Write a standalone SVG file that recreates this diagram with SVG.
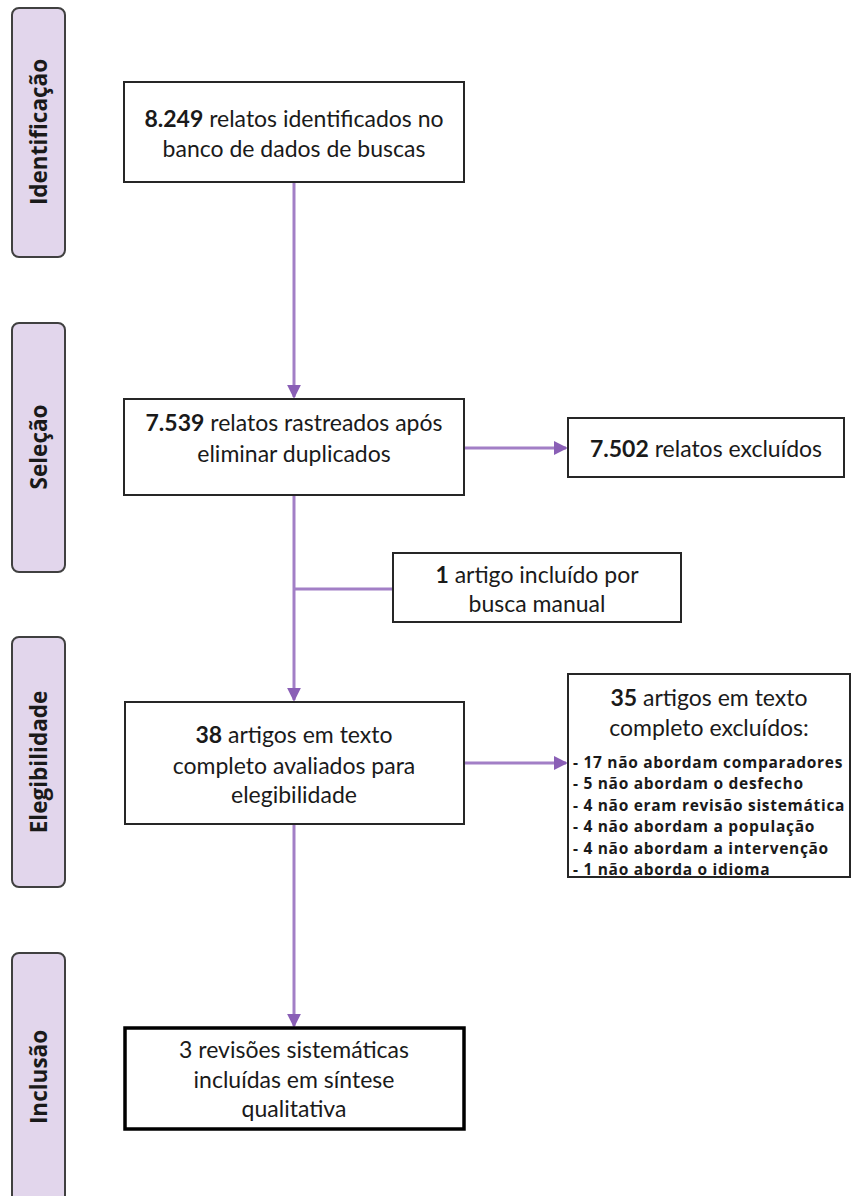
<svg xmlns="http://www.w3.org/2000/svg" width="858" height="1196" viewBox="0 0 858 1196">
<defs>
<style>
.phase{fill:#e2d6ec;stroke:#404040;stroke-width:2}
.ptxt{font-family:"Open Sans","Noto Sans",sans-serif;font-weight:700;font-size:22.5px;fill:#1a1a1a;text-anchor:middle;dominant-baseline:central}
.box{fill:#fff;stroke:#262626;stroke-width:2}
.boxb{fill:#fff;stroke:#000;stroke-width:3.5}
.t{font-family:Lato,"Liberation Sans",sans-serif;font-size:23px;fill:#1a1a1a;text-anchor:middle;dominant-baseline:central}
.l{font-family:"Open Sans","Liberation Sans",sans-serif;font-size:15.5px;letter-spacing:0.7px;font-weight:700;fill:#1a1a1a;dominant-baseline:central}
.c{stroke:#a27fc6;stroke-width:3;fill:none}
</style>
<marker id="ah" markerWidth="4.6" markerHeight="4.6" refX="4" refY="2.3" orient="auto" markerUnits="strokeWidth">
<path d="M0,0 L4.6,2.3 L0,4.6 z" fill="#8a5fb6"/>
</marker>
</defs>
<rect width="858" height="1196" fill="#fff"/>
<g id="phase-identificacao"><rect class="phase" x="12" y="8" width="53" height="249" rx="7"/><text class="ptxt" transform="translate(38.5,132) rotate(-90)">Identificação</text></g>
<g id="phase-selecao"><rect class="phase" x="12" y="323" width="53" height="249" rx="7"/><text class="ptxt" transform="translate(38.5,447) rotate(-90)">Seleção</text></g>
<g id="phase-elegibilidade"><rect class="phase" x="12" y="637" width="53" height="250" rx="7"/><text class="ptxt" transform="translate(38.5,762) rotate(-90)">Elegibilidade</text></g>
<g id="phase-inclusao"><rect class="phase" x="12" y="953" width="53" height="260" rx="7"/><text class="ptxt" transform="translate(38.5,1077) rotate(-90)">Inclusão</text></g>
<g id="connectors">
<line class="c" x1="294" y1="182" x2="294" y2="397" marker-end="url(#ah)"/>
<line class="c" x1="464" y1="448" x2="566" y2="448" marker-end="url(#ah)"/>
<line class="c" x1="294" y1="495" x2="294" y2="700" marker-end="url(#ah)"/>
<line class="c" x1="393" y1="589" x2="294" y2="589"/>
<line class="c" x1="464" y1="763" x2="566" y2="763" marker-end="url(#ah)"/>
<line class="c" x1="294" y1="824" x2="294" y2="1026" marker-end="url(#ah)"/>
</g>
<g id="n-identificados"><rect class="box" x="124" y="82" width="340" height="100"/>
<text class="t" x="294" y="118"><tspan font-weight="700">8.249</tspan> relatos identificados no</text>
<text class="t" x="294" y="148">banco de dados de buscas</text></g>
<g id="n-rastreados"><rect class="box" x="124" y="399" width="340" height="96"/>
<text class="t" x="294" y="422"><tspan font-weight="700">7.539</tspan> relatos rastreados após</text>
<text class="t" x="294" y="453">eliminar duplicados</text></g>
<g id="n-excluidos"><rect class="box" x="568" y="418" width="276" height="59"/>
<text class="t" x="706" y="448"><tspan font-weight="700">7.502</tspan> relatos excluídos</text></g>
<g id="n-manual"><rect class="box" x="393" y="553" width="288" height="69"/>
<text class="t" x="537" y="574"><tspan font-weight="700">1</tspan> artigo incluído por</text>
<text class="t" x="537" y="603">busca manual</text></g>
<g id="n-avaliados"><rect class="box" x="125" y="702" width="339" height="122"/>
<text class="t" x="294" y="734"><tspan font-weight="700">38</tspan> artigos em texto</text>
<text class="t" x="294" y="765">completo avaliados para</text>
<text class="t" x="294" y="794">elegibilidade</text></g>
<g id="n-excluidos-texto"><rect class="box" x="568" y="674" width="282" height="203"/>
<text class="t" x="709" y="697"><tspan font-weight="700">35</tspan> artigos em texto</text>
<text class="t" x="709" y="727">completo excluídos:</text>
<text class="l" x="573" y="762">- 17 não abordam comparadores</text>
<text class="l" x="573" y="783.4">- 5 não abordam o desfecho</text>
<text class="l" x="573" y="804.8">- 4 não eram revisão sistemática</text>
<text class="l" x="573" y="826.2">- 4 não abordam a população</text>
<text class="l" x="573" y="847.6">- 4 não abordam a intervenção</text>
<text class="l" x="573" y="869">- 1 não aborda o idioma</text></g>
<g id="n-incluidas"><rect class="boxb" x="125" y="1028" width="339" height="101"/>
<text class="t" x="294" y="1049">3 revisões sistemáticas</text>
<text class="t" x="294" y="1079">incluídas em síntese</text>
<text class="t" x="294" y="1108">qualitativa</text></g>
</svg>
